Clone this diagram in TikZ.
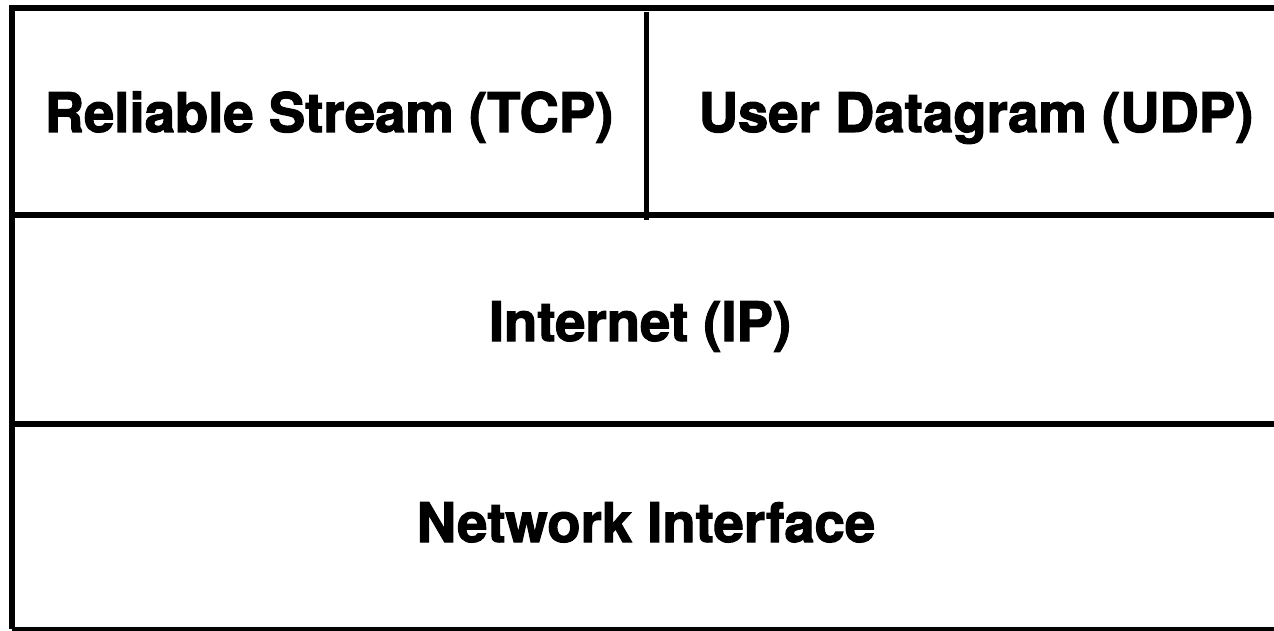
\documentclass[tikz,border=0pt]{standalone}
\usepackage{fontspec}
\setmainfont{TeX Gyre Heros}
\newfontfamily\heavyfont{TeX Gyre Heros}[BoldFeatures={FakeBold=2}]
\begin{document}
\begin{tikzpicture}[x=1pt,y=-1pt,
  rule/.style={line width=5.5pt,line join=miter},
  thinrule/.style={line width=4pt},
  layer/.style={anchor=base,inner sep=0pt,font=\heavyfont\fontsize{54.5}{60}\selectfont\bfseries}]
\useasboundingbox (0,0) rectangle (1274,631);
\clip (0,0) rectangle (1274,631);
% frame of the protocol stack (right side runs past the page edge)
\coordinate (tl) at (12,8);
\coordinate (bl) at (12,629);
\coordinate (tr) at (1310,8);
\coordinate (br) at (1310,629);
\draw[rule] (tr) -- (tl) -- (bl);
\draw[thinrule] (bl) -- (br);
% layer boundaries
\coordinate (s1l) at (12,215);
\coordinate (s1r) at (1310,215);
\coordinate (s2l) at (12,424);
\coordinate (s2r) at (1310,424);
\draw[rule] (s1l) -- (s1r);
\draw[rule] (s2l) -- (s2r);
% split between the two transport services
\coordinate (vtop) at (646,12);
\coordinate (vbot) at (646,220);
\draw[line width=5pt] (vtop) -- (vbot);
% layer names
\node[layer] (tcp) at (329,132) {Reliable Stream (TCP)};
\node[layer] (udp) at (976,132) {User Datagram (UDP)};
\node[layer] (ip) at (640,341) {Internet (IP)};
\node[layer] (ni) at (646,542) {Network Interface};
\end{tikzpicture}
\end{document}
